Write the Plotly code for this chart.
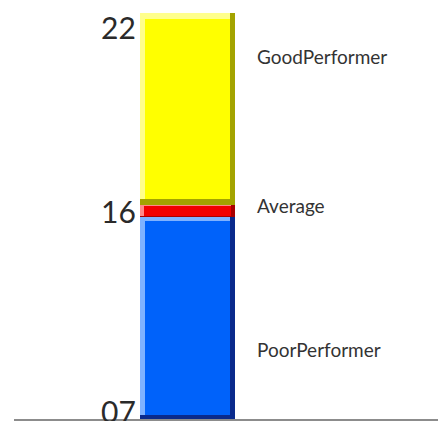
import plotly.graph_objects as go

# ---- data ----
categories = ["PoorPerformer", "Average", "GoodPerformer"]
segment_heights = [49.8, 2.9, 47.3]          # share of the bar (percent)
scale_labels = ["07", "16", "22"]             # values printed at the left of the bar
label_levels = [17.0, 52.7, 89.2]             # where each category name sits (same units)

# ---- styles ----
main_colors = ["#0062FA", "#F20000", "#FFFF00"]
light_colors = ["#7FB2FF", "#FF8A8A", "#FFFF8C"]
dark_colors = ["#0A2A8C", "#A80000", "#A3A300"]
bevel_x = [0.055, 0.04, 0.055]               # bar-width units
bevel_y = [1.0, 0.3, 1.4]                    # value units

fig = go.Figure()
base = 0.0
bounds = []
for i, h in enumerate(segment_heights):
    bx, by = bevel_x[i], bevel_y[i]
    # dark under-layer (right and bottom edges)
    fig.add_trace(go.Bar(x=[0], y=[h], base=[base], width=[1.0], offset=[-0.5],
                         marker=dict(color=dark_colors[i], line=dict(width=0)),
                         hoverinfo="skip", showlegend=False))
    # light layer (left and top edges)
    fig.add_trace(go.Bar(x=[0], y=[h - by], base=[base + by], width=[1.0 - bx], offset=[-0.5],
                         marker=dict(color=light_colors[i], line=dict(width=0)),
                         hoverinfo="skip", showlegend=False))
    # face
    fig.add_trace(go.Bar(x=[0], y=[h - 2 * by], base=[base + by], width=[1.0 - 2 * bx],
                         offset=[-0.5 + bx], name=categories[i],
                         marker=dict(color=main_colors[i], line=dict(width=0)),
                         showlegend=False))
    bounds.append((base, base + h))
    base += h

label_font = dict(family="Lato, 'Open Sans', sans-serif", size=19, color="#333333")
scale_font = dict(family="Lato, 'Open Sans', sans-serif", size=30, color="#2a2a2a")

# category names at the right of the bar
for name, lvl in zip(categories, label_levels):
    fig.add_annotation(x=0.71, y=lvl, text=name, showarrow=False,
                       xanchor="left", yanchor="middle", font=label_font)

# scale numbers at the left of the bar
scale_positions = [bounds[0][0], (bounds[1][0] + bounds[1][1]) / 2, bounds[2][1]]
scale_shifts = [8, 0, -14]
for txt, pos, sh in zip(scale_labels, scale_positions, scale_shifts):
    fig.add_annotation(x=-0.52, y=pos, yshift=sh, text=txt, showarrow=False,
                       xanchor="right", yanchor="middle", font=scale_font)

fig.update_layout(
    width=438, height=421,
    margin=dict(l=14, r=0, t=0, b=2),
    paper_bgcolor="white", plot_bgcolor="white",
    barmode="overlay", bargap=0,
    xaxis=dict(range=[-1.826, 2.637], showgrid=False, zeroline=False,
               showticklabels=False, ticks="", showline=True,
               linecolor="#8C8C8C", linewidth=2, fixedrange=True),
    yaxis=dict(range=[0, 103.2], showgrid=False, zeroline=False,
               showticklabels=False, ticks="", showline=False, fixedrange=True),
)

fig.write_html("out.html", config={"displayModeBar": False},
               post_script="document.body.style.margin='0px';document.body.style.overflow='hidden';")
